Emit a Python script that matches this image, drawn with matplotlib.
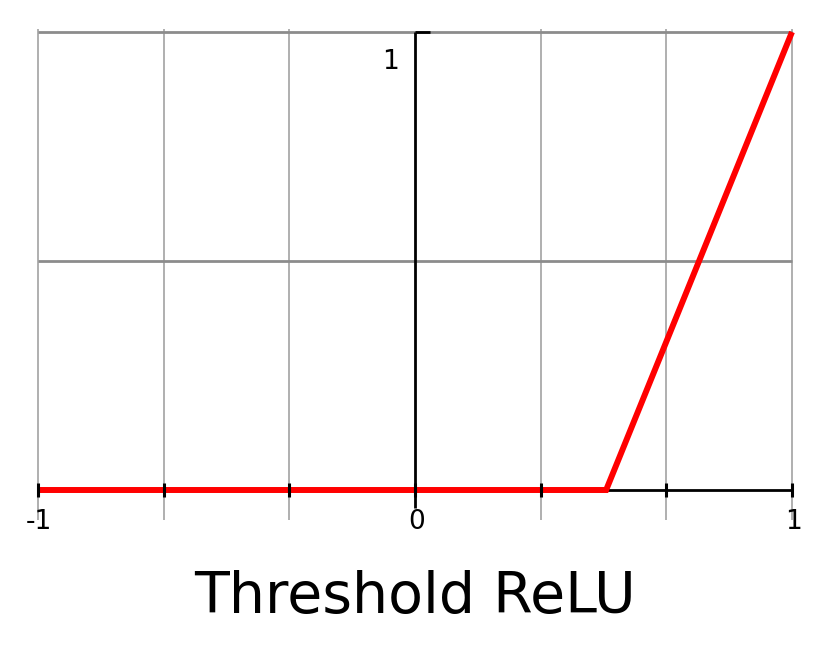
"""Threshold ReLU activation plot."""
import matplotlib
matplotlib.use("Agg")
import matplotlib.pyplot as plt

# data
curve_x = [-1.0, 0.507, 1.0]
curve_y = [0.0, 0.0, 1.0]
vgrid_x = [-1.0, -2 / 3, -1 / 3, 1 / 3, 2 / 3, 1.0]
hgrid_y = [0.5, 1.0]
xtick_pos = [-1.0, -2 / 3, -1 / 3, 0.0, 1 / 3, 2 / 3, 1.0]
xlabels = {-1.0: "-1", 0.0: "0", 1.0: "1"}
ylabel_text = "1"
title = "Threshold ReLU"

GRID = "#8c8c8c"
W, H = 831, 646

fig = plt.figure(figsize=(W / 100, H / 100), dpi=100)
ax = fig.add_axes([38 / W, 156 / H, 754 / W, 458 / H])
ax.set_xlim(-1, 1)
ax.set_ylim(0, 1)
ax.axis("off")

kw = dict(clip_on=False, solid_capstyle="butt")
for x in vgrid_x:
    ax.plot([x, x], [-0.066, 1.006], color="#9a9a9a", lw=1.1, zorder=1, **kw)
for y in hgrid_y:
    ax.plot([-1, 1], [y, y], color=GRID, lw=2.0, zorder=1, **kw)

# axes
ax.plot([-1, 1], [0, 0], color="black", lw=2.0, zorder=2, **kw)
ax.plot([0, 0], [-0.04, 1.0], color="black", lw=2.0, zorder=2, **kw)
ax.plot([0, 0.04], [1.0, 1.0], color="black", lw=2.0, zorder=2, **kw)
for x in xtick_pos:
    ax.plot([x, x], [-0.016, 0.016], color="black", lw=2.2, zorder=4, **kw)

ax.plot(curve_x, curve_y, color="#ff0000", lw=4.3, zorder=3,
        solid_joinstyle="miter", solid_capstyle="butt", clip_on=False)

for x, s in xlabels.items():
    ax.text(x + 0.003, -0.07, s, ha="center", va="center", fontsize=19)
ax.text(-0.065, 0.934, ylabel_text, ha="center", va="center", fontsize=19)

fig.text(415 / W, 1 - 597 / H, title, ha="center", va="center", fontsize=41)

fig.savefig("out.png", dpi=100)
